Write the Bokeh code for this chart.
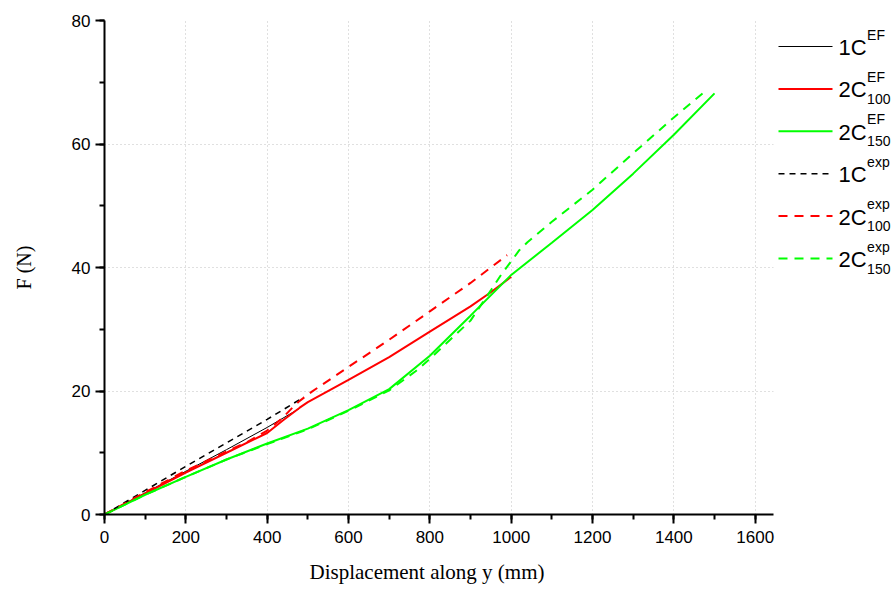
from bokeh.plotting import figure
from bokeh.layouts import row
from bokeh.models import Range1d, SingleIntervalTicker, FixedTicker, Title
from bokeh.core.properties import value
from bokeh.embed import file_html
from bokeh.resources import INLINE

# ---- series: displacement along y (mm) vs force F (N) ----
c1_ef_x = [0, 100, 200, 300, 400, 480]
c1_ef_y = [0, 3.5, 7.0, 10.5, 14.1, 17.2]

c2_100_ef_x = [0, 100, 200, 300, 400, 440, 480, 500, 600, 700, 800, 900, 950, 1000]
c2_100_ef_y = [0, 3.4, 6.8, 10.0, 13.2, 15.3, 17.3, 18.2, 21.8, 25.5, 29.6, 33.7, 36.0, 38.5]

c2_150_ef_x = [0, 100, 200, 300, 400, 500, 600, 700, 800, 900, 1000,
               1100, 1200, 1300, 1400, 1500]
c2_150_ef_y = [0, 3.2, 6.1, 8.9, 11.5, 13.9, 16.9, 20.3, 25.7, 32.2, 38.8,
               44.0, 49.3, 55.2, 61.5, 68.2]

c1_exp_x = [0, 100, 200, 300, 400, 490]
c1_exp_y = [0, 3.9, 7.8, 11.6, 15.4, 19.0]

c2_100_exp_x = [0, 100, 200, 300, 350, 400, 437, 465, 480, 510, 600, 700, 800, 900, 990]
c2_100_exp_y = [0, 3.6, 7.1, 10.2, 11.7, 13.6, 15.6, 17.5, 18.4, 19.9, 23.9, 28.3, 32.9, 37.5, 42.0]

c2_150_exp_x = [0, 100, 200, 300, 400, 500, 600, 700, 765, 800, 900, 950, 975, 1000,
                1020, 1040, 1100, 1200, 1300, 1400, 1480]
c2_150_exp_y = [0, 3.2, 6.1, 8.9, 11.4, 13.8, 16.8, 20.1, 23.2, 25.2, 31.4, 36.3, 38.8, 41.0,
                42.8, 44.1, 47.4, 52.6, 58.5, 64.3, 68.7]

# legend entries: base text, superscript, subscript
leg_base = ["1C", "2C", "2C", "1C", "2C", "2C"]
leg_sup = ["EF", "EF", "EF", "exp", "exp", "exp"]
leg_sub = ["", "100", "150", "", "100", "150"]

RED = "#ff0000"
GREEN = "#00ff00"
BLACK = "#000000"

series = [
    (c1_ef_x, c1_ef_y, BLACK, "solid", 1.0),
    (c2_100_ef_x, c2_100_ef_y, RED, "solid", 2.0),
    (c2_150_ef_x, c2_150_ef_y, GREEN, "solid", 2.0),
    (c1_exp_x, c1_exp_y, BLACK, "6 5", 1.6),
    (c2_100_exp_x, c2_100_exp_y, RED, "9 7", 2.0),
    (c2_150_exp_x, c2_150_exp_y, GREEN, "9 7", 2.0),
]

TICK_FONT = "Liberation Sans"
LABEL_FONT = "Liberation Serif"

BORDER_TOP = 20
BORDER_BOTTOM = 83
FIG_H = 597

p = figure(width=775, height=FIG_H, output_backend="svg", toolbar_location=None,
           x_range=Range1d(0, 1645), y_range=Range1d(0, 80),
           min_border_left=104, min_border_right=2, min_border_top=BORDER_TOP,
           min_border_bottom=BORDER_BOTTOM)
p.outline_line_color = None
p.background_fill_color = "white"
p.border_fill_color = "white"

for xs, ys, col, dash, w in series:
    p.line(xs, ys, line_color=col, line_dash=dash, line_width=w)

# axes
p.xaxis.ticker = SingleIntervalTicker(interval=200, num_minor_ticks=2)
p.yaxis.ticker = SingleIntervalTicker(interval=20, num_minor_ticks=2)
for ax in (p.xaxis[0], p.yaxis[0]):
    ax.axis_line_width = 2
    ax.axis_line_color = BLACK
    ax.major_tick_line_width = 2
    ax.minor_tick_line_width = 2
    ax.major_tick_line_color = BLACK
    ax.minor_tick_line_color = BLACK
    ax.major_tick_in = 0
    ax.major_tick_out = 9
    ax.minor_tick_in = 0
    ax.minor_tick_out = 5
    ax.major_label_text_font = TICK_FONT
    ax.major_label_text_font_size = "17px"
    ax.major_label_text_color = BLACK
    ax.axis_label_text_font = LABEL_FONT
    ax.axis_label_text_font_size = "20px"
    ax.axis_label_text_font_style = "normal"
    ax.axis_label_text_color = BLACK

p.yaxis.axis_label = "F (N)"
p.xaxis.major_label_standoff = 7
p.yaxis.major_label_standoff = 5
p.yaxis.axis_label_standoff = 34

# x-axis caption, placed from the left edge of the frame
p.add_layout(Title(text="Displacement along y (mm)", align="left", offset=205,
                   text_font=LABEL_FONT, text_font_size="21px",
                   text_font_style="normal", text_color=BLACK, standoff=24),
             "below")

# dotted grid
p.xgrid.ticker = FixedTicker(ticks=[200, 400, 600, 800, 1000, 1200, 1400, 1600])
p.ygrid.ticker = FixedTicker(ticks=[20, 40, 60])
for g in (p.xgrid[0], p.ygrid[0]):
    g.grid_line_color = "#c0c0c0"
    g.grid_line_dash = "1 3"
    g.grid_line_width = 1

# ---- legend panel drawn beside the plot (coordinates in page pixels) ----
lg = figure(width=119, height=FIG_H, output_backend="svg", toolbar_location=None,
            x_range=Range1d(775, 894),
            y_range=Range1d(FIG_H - BORDER_BOTTOM, BORDER_TOP),
            x_axis_type=None, y_axis_type=None,
            min_border_left=0, min_border_right=0,
            min_border_top=BORDER_TOP, min_border_bottom=BORDER_BOTTOM)
lg.outline_line_color = None
lg.xgrid.visible = False
lg.ygrid.visible = False
lg.background_fill_color = "white"
lg.border_fill_color = "white"

row_top = 46
row_step = 42.4
sample_x0, sample_x1 = 778, 832
text_x = 838
base_size = 22
small_size = 14
base_w = 0.639 * base_size * 2  # width of a two-character base label

for i, (xs, ys, col, dash, w) in enumerate(series):
    yc = row_top + i * row_step
    lg.line([sample_x0, sample_x1], [yc, yc], line_color=col, line_dash=dash,
            line_width=w)
    lg.text(x=[text_x], y=[yc + 1], text=[leg_base[i]],
            text_font=value(TICK_FONT), text_font_size=f"{base_size}px",
            text_baseline="middle", text_align="left", text_color=BLACK)
    lg.text(x=[text_x + base_w + 0.5], y=[yc - 4], text=[leg_sup[i]],
            text_font=value(TICK_FONT), text_font_size=f"{small_size}px",
            text_baseline="bottom", text_align="left", text_color=BLACK)
    if leg_sub[i]:
        lg.text(x=[text_x + base_w + 0.5], y=[yc + 5], text=[leg_sub[i]],
                text_font=value(TICK_FONT), text_font_size=f"{small_size}px",
                text_baseline="top", text_align="left", text_color=BLACK)

layout = row(p, lg)
open("out.html", "w").write(file_html(layout, INLINE))
